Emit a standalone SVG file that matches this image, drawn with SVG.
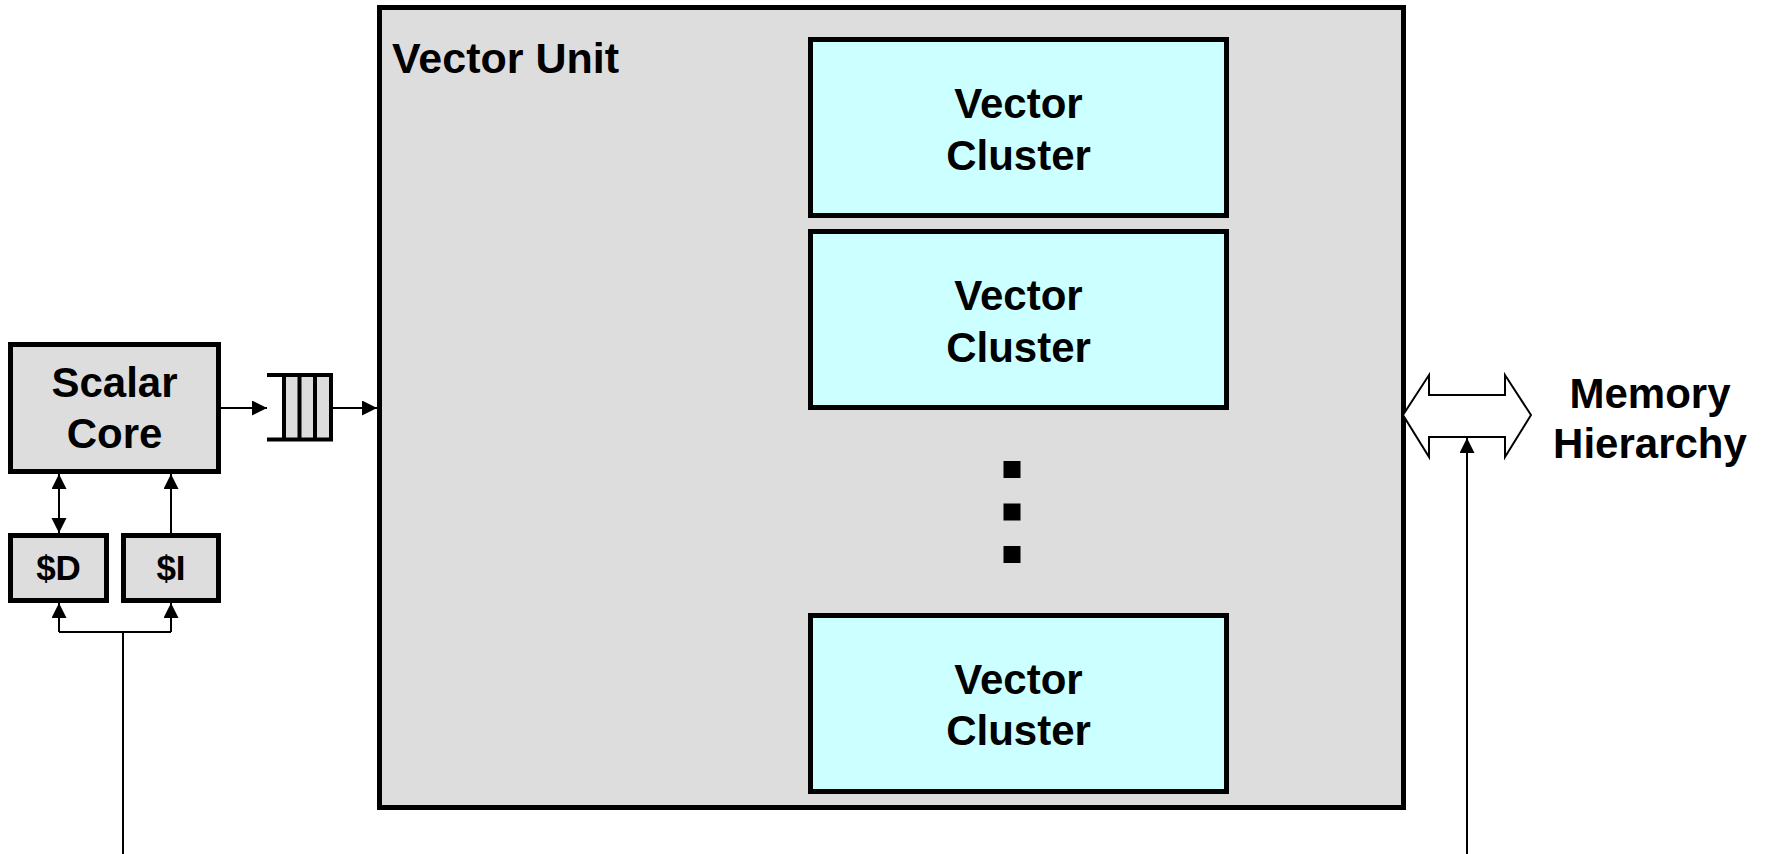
<svg xmlns="http://www.w3.org/2000/svg" width="1765" height="854" viewBox="0 0 1765 854">
<style>
.box{fill:#DDDDDD;stroke:#000;stroke-width:5}
.vc{fill:#CCFFFF;stroke:#000;stroke-width:5}
.t{font-family:"Liberation Sans",Arial,sans-serif;font-weight:bold;font-size:42px;fill:#000;text-anchor:middle}
.ts{font-family:"Liberation Sans",Arial,sans-serif;font-weight:bold;font-size:35px;fill:#000;text-anchor:middle}
.ln{fill:none;stroke:#000;stroke-width:2}
.q{fill:none;stroke:#000;stroke-width:4}
</style>
<defs>
<marker id="ah" markerUnits="userSpaceOnUse" markerWidth="16" markerHeight="16" refX="15" refY="7.5" orient="auto-start-reverse" viewBox="0 0 16 16">
<path d="M0,0 L15,7.5 L0,15 Z" fill="#000"/>
</marker>
</defs>
<rect width="1765" height="854" fill="#fff"/>
<g id="vector-unit">
<rect class="box" x="379.5" y="7.5" width="1024" height="800"/>
<text class="t" x="392" y="73" style="text-anchor:start;font-size:43px">Vector Unit</text>
</g>
<g id="cluster1">
<rect class="vc" x="810.5" y="39.5" width="416" height="176"/>
<text class="t" x="1018.5" y="118">Vector</text>
<text class="t" x="1018.5" y="170">Cluster</text>
</g>
<g id="cluster2">
<rect class="vc" x="810.5" y="231.5" width="416" height="176"/>
<text class="t" x="1018.5" y="310">Vector</text>
<text class="t" x="1018.5" y="362">Cluster</text>
</g>
<g id="dots">
<rect x="1003.5" y="461" width="17" height="17" fill="#000"/>
<rect x="1003.5" y="503.5" width="17" height="17" fill="#000"/>
<rect x="1003.5" y="546" width="17" height="17" fill="#000"/>
</g>
<g id="cluster3">
<rect class="vc" x="810.5" y="615.5" width="416" height="176"/>
<text class="t" x="1018.5" y="694">Vector</text>
<text class="t" x="1018.5" y="745">Cluster</text>
</g>
<g id="scalar-core">
<rect class="box" x="10.5" y="344.5" width="208" height="127"/>
<text class="t" x="114.5" y="397">Scalar</text>
<text class="t" x="114.5" y="448">Core</text>
</g>
<g id="dcache">
<rect class="box" x="10.5" y="535.5" width="96" height="65"/>
<text class="ts" x="58.5" y="580">$D</text>
</g>
<g id="icache">
<rect class="box" x="123.5" y="535.5" width="95" height="65"/>
<text class="ts" x="171" y="580">$I</text>
</g>
<g id="queue">
<rect x="284" y="375" width="47" height="64.5" fill="#DDDDDD"/>
<path class="q" d="M267,375 H333 M267,439.5 H333 M284,375 V439.5 M299.5,375 V439.5 M315,375 V439.5 M331,375 V439.5"/>
</g>
<g id="memory">
<text class="t" x="1650" y="408">Memory</text>
<text class="t" x="1650" y="458">Hierarchy</text>
</g>
<g id="connectors">
<line class="ln" x1="221" y1="408" x2="267" y2="408" marker-end="url(#ah)"/>
<line class="ln" x1="333" y1="408" x2="377" y2="408" marker-end="url(#ah)"/>
<line class="ln" x1="59" y1="474" x2="59" y2="533" marker-start="url(#ah)" marker-end="url(#ah)"/>
<line class="ln" x1="171" y1="533" x2="171" y2="474" marker-end="url(#ah)"/>
<path class="ln" d="M123,854 V632 M59,632 H171"/>
<line class="ln" x1="59" y1="632" x2="59" y2="603" marker-end="url(#ah)"/>
<line class="ln" x1="171" y1="632" x2="171" y2="603" marker-end="url(#ah)"/>
<polygon points="1403,415 1429,375 1429,395 1505,395 1505,375 1531,415 1505,457 1505,437 1429,437 1429,457" fill="#fff" stroke="#000" stroke-width="2" stroke-linejoin="miter"/>
<line class="ln" x1="1467" y1="854" x2="1467" y2="438" marker-end="url(#ah)"/>
</g>
</svg>
